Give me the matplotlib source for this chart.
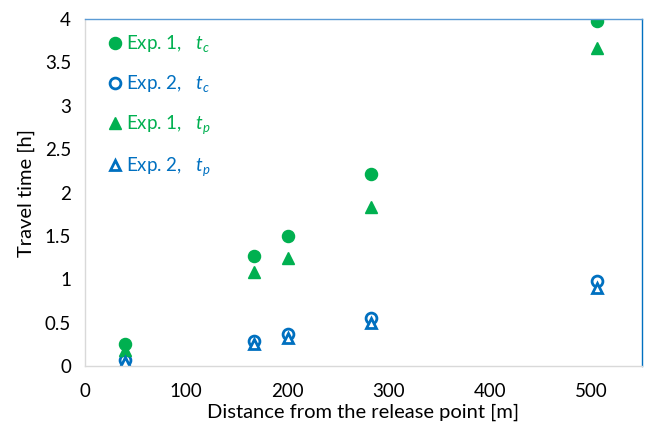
import matplotlib
matplotlib.use("Agg")
import matplotlib.pyplot as plt

plt.rcParams['font.family'] = ['Lato', 'DejaVu Sans']
plt.rcParams['mathtext.fontset'] = 'custom'
plt.rcParams['mathtext.rm'] = 'Lato'
plt.rcParams['mathtext.it'] = 'Lato:italic'

# distances from the release point [m]
distance = [39, 167, 200, 282, 506]

# travel times [h]
exp1_tc = [0.25, 1.27, 1.50, 2.21, 3.98]
exp2_tc = [0.07, 0.29, 0.37, 0.55, 0.98]
exp1_tp = [0.18, 1.08, 1.25, 1.83, 3.67]
exp2_tp = [0.05, 0.25, 0.32, 0.50, 0.90]

green = "#00b050"
blue = "#0070c0"

fig = plt.figure(figsize=(6.46, 4.33), dpi=100)
ax = fig.add_axes([0.1316, 0.1547, 0.8622, 0.8014])

ax.plot(distance, exp1_tc, "o", color=green, markersize=8.7, label="Exp. 1,   $t_c$")
ax.plot(distance, exp2_tc, "o", color=blue, markerfacecolor="white", markeredgewidth=2,
        markersize=7.8, label="Exp. 2,   $t_c$")
ax.plot(distance, exp1_tp, "^", color=green, markersize=9.3, label="Exp. 1,   $t_p$")
ax.plot(distance, exp2_tp, "^", color=blue, markerfacecolor="white", markeredgewidth=2,
        markersize=7.8, label="Exp. 2,   $t_p$")

ax.set_xlim(0, 550)
ax.set_ylim(0, 4)
ax.set_xticks([0, 100, 200, 300, 400, 500])
ax.set_yticks([0, 0.5, 1, 1.5, 2, 2.5, 3, 3.5, 4])
ax.set_yticklabels(["0", "0.5", "1", "1.5", "2", "2.5", "3", "3.5", "4"])
ax.tick_params(axis="both", length=0, labelsize=13.5, colors="#000000")
ax.tick_params(axis="x", pad=12)
ax.tick_params(axis="y", pad=10)

ax.set_xlabel("Distance from the release point [m]", fontsize=14.5, labelpad=3)
ax.set_ylabel("Travel time [h]", fontsize=14.5, labelpad=7)

ax.spines["left"].set_color("#d9d9d9")
ax.spines["bottom"].set_color("#d9d9d9")
ax.spines["top"].set_color("#5b9bd5")
ax.spines["right"].set_color(blue)
for s in ax.spines.values():
    s.set_linewidth(1.0)

leg = ax.legend(loc="upper left", bbox_to_anchor=(0.008, 1.0), frameon=False,
                fontsize=13.5, labelspacing=1.02, handletextpad=0.0,
                handlelength=1.2, borderaxespad=0.35)
for txt, c in zip(leg.get_texts(), [green, blue, green, blue]):
    txt.set_color(c)

fig.savefig("out.png", dpi=100)
